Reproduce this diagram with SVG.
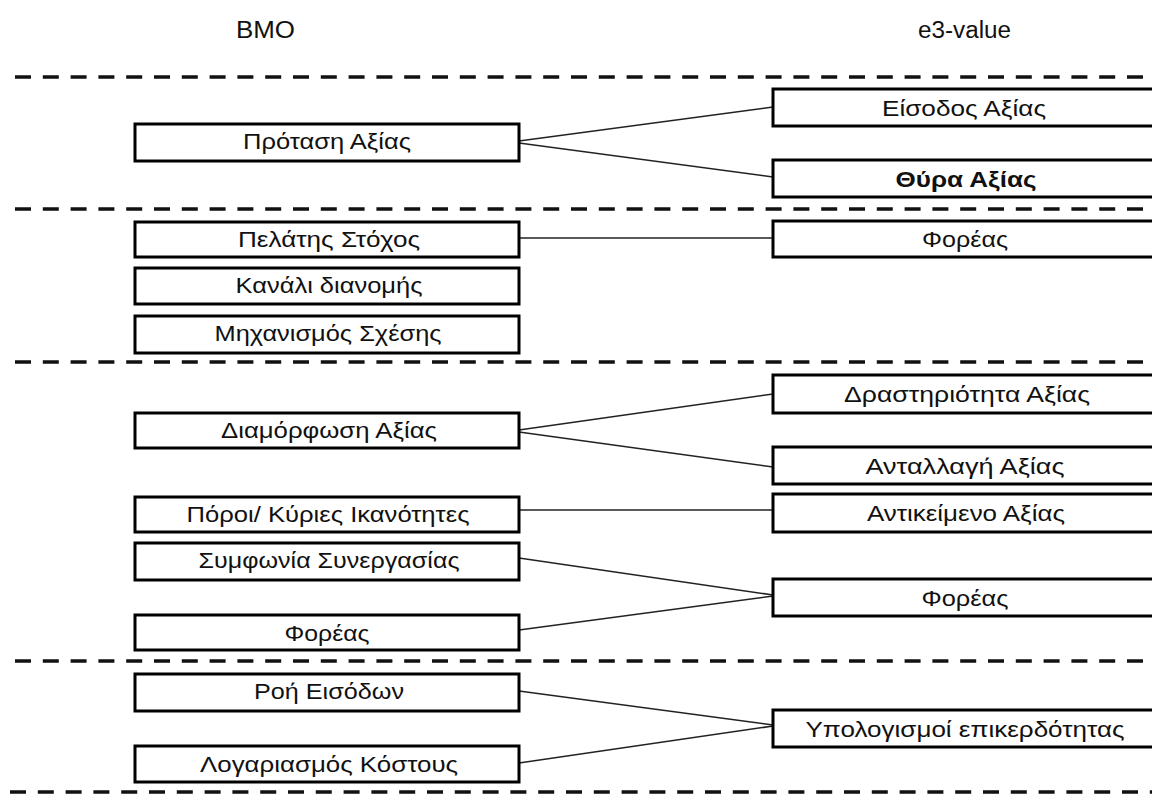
<svg xmlns="http://www.w3.org/2000/svg" width="1152" height="794" viewBox="0 0 1152 794">
  <style>
    .bg { fill: #ffffff; }
    .sep { stroke: #111111; stroke-width: 3.5; stroke-dasharray: 16 11.8; fill: none; }
    .box { fill: #ffffff; stroke: #000000; stroke-width: 3; }
    .link { stroke: #222222; stroke-width: 1.6; fill: none; }
    .hdr { font-family: "Liberation Sans", Arial, sans-serif; font-size: 23px; fill: #111111; text-anchor: middle; }
    .lbl { font-family: "Liberation Sans", Arial, sans-serif; font-size: 22px; fill: #111111; text-anchor: middle; }
    .bold { font-weight: bold; }
  </style>

  <rect class="bg" x="0" y="0" width="1152" height="794"/>

  <!-- column headings -->
  <text class="hdr" x="265.5" y="38" textLength="59" lengthAdjust="spacingAndGlyphs">BMO</text>
  <text class="hdr" x="964.5" y="38" textLength="93" lengthAdjust="spacingAndGlyphs">e3-value</text>

  <!-- section separators -->
  <g id="separators">
    <line class="sep" x1="15" y1="77" x2="1152" y2="77"/>
    <line class="sep" x1="15" y1="209" x2="1152" y2="209"/>
    <line class="sep" x1="15" y1="362" x2="1152" y2="362"/>
    <line class="sep" x1="15" y1="661" x2="1152" y2="661"/>
    <line class="sep" x1="10" y1="792" x2="1152" y2="792"/>
  </g>

  <!-- connectors -->
  <g id="connectors">
    <line class="link" x1="519" y1="141" x2="773" y2="107"/>
    <line class="link" x1="519" y1="143" x2="773" y2="177"/>
    <line class="link" x1="519" y1="238" x2="773" y2="238"/>
    <line class="link" x1="519" y1="430" x2="773" y2="394"/>
    <line class="link" x1="519" y1="432" x2="773" y2="467"/>
    <line class="link" x1="519" y1="510" x2="773" y2="510"/>
    <line class="link" x1="519" y1="558" x2="773" y2="595"/>
    <line class="link" x1="519" y1="630" x2="773" y2="596"/>
    <line class="link" x1="519" y1="691" x2="773" y2="725"/>
    <line class="link" x1="519" y1="763" x2="773" y2="726"/>
  </g>

  <!-- BMO column -->
  <g id="bmo-value-proposition">
    <rect class="box" x="135" y="124" width="384" height="37"/>
    <text class="lbl" x="327" y="149" textLength="168" lengthAdjust="spacingAndGlyphs">Πρόταση Αξίας</text>
  </g>
  <g id="bmo-target-customer">
    <rect class="box" x="135" y="222" width="384" height="35"/>
    <text class="lbl" x="329" y="247" textLength="182" lengthAdjust="spacingAndGlyphs">Πελάτης Στόχος</text>
  </g>
  <g id="bmo-distribution-channel">
    <rect class="box" x="135" y="268" width="384" height="36"/>
    <text class="lbl" x="329" y="293" textLength="187" lengthAdjust="spacingAndGlyphs">Κανάλι διανομής</text>
  </g>
  <g id="bmo-relationship">
    <rect class="box" x="135" y="316" width="384" height="37"/>
    <text class="lbl" x="328" y="341" textLength="227" lengthAdjust="spacingAndGlyphs">Μηχανισμός Σχέσης</text>
  </g>
  <g id="bmo-value-configuration">
    <rect class="box" x="135" y="413" width="384" height="35"/>
    <text class="lbl" x="329" y="438" textLength="216" lengthAdjust="spacingAndGlyphs">Διαμόρφωση Αξίας</text>
  </g>
  <g id="bmo-capabilities">
    <rect class="box" x="135" y="497" width="384" height="35"/>
    <text class="lbl" x="328" y="522" textLength="283" lengthAdjust="spacingAndGlyphs">Πόροι/ Κύριες Ικανότητες</text>
  </g>
  <g id="bmo-partnership">
    <rect class="box" x="135" y="543" width="384" height="37"/>
    <text class="lbl" x="329" y="568" textLength="261" lengthAdjust="spacingAndGlyphs">Συμφωνία Συνεργασίας</text>
  </g>
  <g id="bmo-actor">
    <rect class="box" x="135" y="615" width="384" height="35"/>
    <text class="lbl" x="327" y="641" textLength="85" lengthAdjust="spacingAndGlyphs">Φορέας</text>
  </g>
  <g id="bmo-revenue-flow">
    <rect class="box" x="135" y="674" width="384" height="37"/>
    <text class="lbl" x="329" y="699" textLength="150" lengthAdjust="spacingAndGlyphs">Ροή Εισόδων</text>
  </g>
  <g id="bmo-cost-account">
    <rect class="box" x="135" y="746" width="384" height="36"/>
    <text class="lbl" x="329" y="772" textLength="258" lengthAdjust="spacingAndGlyphs">Λογαριασμός Κόστους</text>
  </g>

  <!-- e3-value column -->
  <g id="e3-value-interface">
    <rect class="box" x="773" y="89" width="390" height="37"/>
    <text class="lbl" x="964" y="116" textLength="164" lengthAdjust="spacingAndGlyphs">Είσοδος Αξίας</text>
  </g>
  <g id="e3-value-port">
    <rect class="box" x="773" y="160" width="390" height="37"/>
    <text class="lbl bold" x="966" y="187" textLength="141" lengthAdjust="spacingAndGlyphs">Θύρα Αξίας</text>
  </g>
  <g id="e3-actor-1">
    <rect class="box" x="773" y="221" width="390" height="36"/>
    <text class="lbl" x="965" y="247" textLength="86" lengthAdjust="spacingAndGlyphs">Φορέας</text>
  </g>
  <g id="e3-value-activity">
    <rect class="box" x="773" y="375" width="390" height="38"/>
    <text class="lbl" x="967" y="402" textLength="246" lengthAdjust="spacingAndGlyphs">Δραστηριότητα Αξίας</text>
  </g>
  <g id="e3-value-exchange">
    <rect class="box" x="773" y="447" width="390" height="37"/>
    <text class="lbl" x="965" y="474" textLength="199" lengthAdjust="spacingAndGlyphs">Ανταλλαγή Αξίας</text>
  </g>
  <g id="e3-value-object">
    <rect class="box" x="773" y="494" width="390" height="38"/>
    <text class="lbl" x="966" y="521" textLength="198" lengthAdjust="spacingAndGlyphs">Αντικείμενο Αξίας</text>
  </g>
  <g id="e3-actor-2">
    <rect class="box" x="773" y="579" width="390" height="37"/>
    <text class="lbl" x="965" y="606" textLength="87" lengthAdjust="spacingAndGlyphs">Φορέας</text>
  </g>
  <g id="e3-profitability">
    <rect class="box" x="773" y="710" width="390" height="37"/>
    <text class="lbl" x="965" y="737" textLength="319" lengthAdjust="spacingAndGlyphs">Υπολογισμοί επικερδότητας</text>
  </g>
</svg>
